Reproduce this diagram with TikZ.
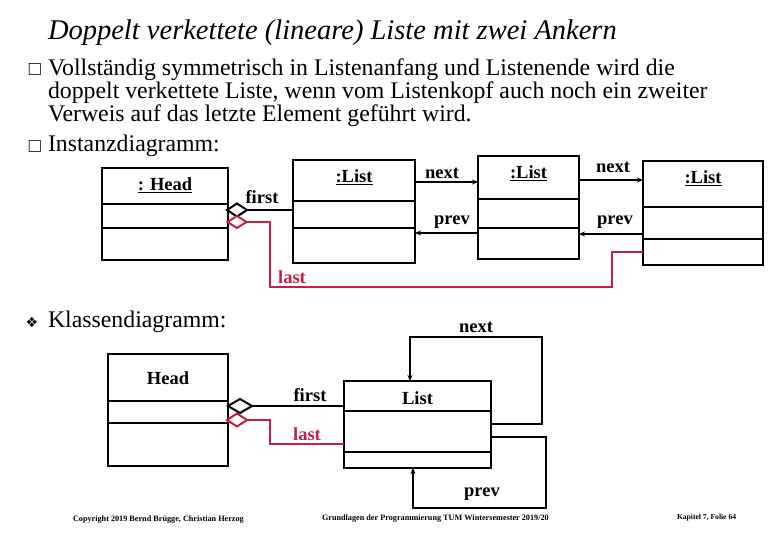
\documentclass[tikz,border=0pt]{standalone}
\usepackage{fontspec}
\setmainfont{Liberation Serif}
\newfontfamily\symfont{DejaVu Sans}
\usetikzlibrary{positioning, arrows.meta, shapes.geometric, calc}
\definecolor{lastred}{RGB}{200,30,70}

\begin{document}
\begin{tikzpicture}[
    x=1pt, y=-1pt,
    >={Stealth[length=6pt, width=5pt]},
    every node/.style={inner sep=0pt, outer sep=0pt},
    box/.style={draw, line width=2.4pt, rectangle, anchor=north west},
    sep/.style={line width=2.2pt},
    lbl/.style={font=\fontsize{18.5}{18.5}\selectfont\bfseries},
    title/.style={font=\fontsize{28.5}{28.5}\selectfont\itshape, anchor=base west},
    body/.style={font=\fontsize{23.8}{23.8}\selectfont, anchor=base west},
    bullet/.style={font=\fontsize{20}{20}\selectfont},
    ref/.style={line width=2pt},
    lastref/.style={line width=2pt, draw=lastred},
    agg/.style={diamond, draw, line width=2pt, fill=white, inner sep=0pt},
    foot/.style={font=\fontsize{8.2}{8.2}\selectfont\bfseries, anchor=base west},
]
\useasboundingbox (0,0) rectangle (780,540);

% Text
\node[title] (ttl) at (48,40) {Doppelt verkettete (lineare) Liste mit zwei Ankern};
\node[bullet] (b1) at (35,70) {□};
\node[body] (t1) at (48,76) {Vollständig symmetrisch in Listenanfang und Listenende wird die};
\node[body] (t2) at (48,99) {doppelt verkettete Liste, wenn vom Listenkopf auch noch ein zweiter};
\node[body] (t3) at (48,122) {Verweis auf das letzte Element geführt wird.};
\node[bullet] (b2) at (35,147) {□};
\node[body] (t4) at (48,152) {Instanzdiagramm:};

% Instanzdiagramm
\node[box, minimum width=126pt, minimum height=92pt]  (ihead) at (102,168) {};
\node[box, minimum width=122pt, minimum height=103pt] (il1)   at (293,160) {};
\node[box, minimum width=101pt, minimum height=103pt] (il2)   at (478,156) {};
\node[box, minimum width=120pt, minimum height=104pt] (il3)   at (643,161) {};
\node[lbl] (iheadname) at ($(ihead.north)+(0,17)$) {\underline{: Head}};
\node[lbl] (il1name)   at ($(il1.north)+(0,17)$)   {\underline{:List}};
\node[lbl] (il2name)   at ($(il2.north)+(0,17)$)   {\underline{:List}};
\node[lbl] (il3name)   at ($(il3.north)+(0,17)$)   {\underline{:List}};
\draw[sep] ($(ihead.north west)+(0,36)$) -- ($(ihead.north east)+(0,36)$);
\draw[sep] ($(ihead.north west)+(0,60)$) -- ($(ihead.north east)+(0,60)$);
\draw[sep] ($(il1.north west)+(0,41)$) -- ($(il1.north east)+(0,41)$);
\draw[sep] ($(il1.north west)+(0,68)$) -- ($(il1.north east)+(0,68)$);
\draw[sep] ($(il2.north west)+(0,43)$) -- ($(il2.north east)+(0,43)$);
\draw[sep] ($(il2.north west)+(0,72)$) -- ($(il2.north east)+(0,72)$);
\draw[sep] ($(il3.north west)+(0,46)$) -- ($(il3.north east)+(0,46)$);
\draw[sep] ($(il3.north west)+(0,78)$) -- ($(il3.north east)+(0,78)$);

\node[agg, minimum width=20pt, minimum height=13pt] (ifirst) at (237,210) {};
\node[agg, draw=lastred, minimum width=19pt, minimum height=12pt] (ilast) at (237,222) {};
\draw[ref] (ifirst.east) -- (il1.west |- ifirst.east);
\draw[ref, ->] ($(il1.north east)+(0,22)$) -- ($(il2.north west)+(0,26)$);
\draw[ref, ->] ($(il2.north west)+(0,77)$) -- ($(il1.north east)+(0,73)$);
\draw[ref, ->] ($(il2.north east)+(0,24)$) -- ($(il3.north west)+(0,19)$);
\draw[ref, ->] ($(il3.north west)+(0,73)$) -- ($(il2.north east)+(0,78)$);
\coordinate (ilast1) at (270,287);
\coordinate (ilast2) at (612,252);
\draw[lastref] (ilast.east) -| (ilast1) -| (ilast2) -- (il3.west |- ilast2);

\node[lbl] (ifirstlbl) at (262,197) {first};
\node[lbl] (inext1)    at (442,173) {next};
\node[lbl] (iprev1)    at (452,222) {prev};
\node[lbl] (inext2)    at (613,167) {next};
\node[lbl] (iprev2)    at (615,222) {prev};
\node[lbl, text=lastred] (ilastlbl) at (292,277) {last};

% Klassendiagramm
\node[font=\symfont\fontsize{14}{14}\selectfont] (b3) at (32,322) {❖};
\node[body] (t5) at (48,328) {Klassendiagramm:};

\node[box, minimum width=120pt, minimum height=112pt] (chead) at (108,354) {};
\node[box, minimum width=147pt, minimum height=87pt]  (clist) at (344,381) {};
\node[lbl] (cheadname) at ($(chead.north)+(0,24)$) {Head};
\node[lbl] (clistname) at ($(clist.north)+(0,17)$) {List};
\draw[sep] ($(chead.north west)+(0,47)$) -- ($(chead.north east)+(0,47)$);
\draw[sep] ($(chead.north west)+(0,69)$) -- ($(chead.north east)+(0,69)$);
\draw[sep] ($(clist.north west)+(0,30)$) -- ($(clist.north east)+(0,30)$);
\draw[sep] ($(clist.north west)+(0,71)$) -- ($(clist.north east)+(0,71)$);

\node[agg, minimum width=24pt, minimum height=14pt] (cfirst) at (240,406) {};
\node[agg, draw=lastred, minimum width=20pt, minimum height=13pt] (clast) at (237,420) {};
\draw[ref] (cfirst.east) -- (clist.west |- cfirst.east);
\coordinate (clast1) at (270,444);
\draw[lastref] (clast.east) -| (clast1) -- (clist.west |- clast1);
\coordinate (cnext1) at (542,337);
\draw[ref, ->] ($(clist.north east)+(0,43)$) -| (cnext1) -| ($(clist.north west)+(66,0)$);
\coordinate (cprev1) at (546,508);
\draw[ref, ->] ($(clist.north east)+(0,56)$) -| (cprev1) -| ($(clist.south west)+(69,0)$);

\node[lbl] (cfirstlbl) at (310,395) {first};
\node[lbl, text=lastred] (clastlbl) at (307,434) {last};
\node[lbl] (cnextlbl) at (476,327) {next};
\node[lbl] (cprevlbl) at (482,494) {prev};

% Fusszeile
\node[foot] (f1) at (73,521)  {Copyright 2019 Bernd Brügge, Christian Herzog};
\node[foot] (f2) at (322,520) {Grundlagen der Programmierung  TUM Wintersemester 2019/20};
\node[foot, font=\fontsize{7.6}{7.6}\selectfont\bfseries] (f3) at (677,519) {Kapitel 7, Folie 64};

\end{tikzpicture}
\end{document}
